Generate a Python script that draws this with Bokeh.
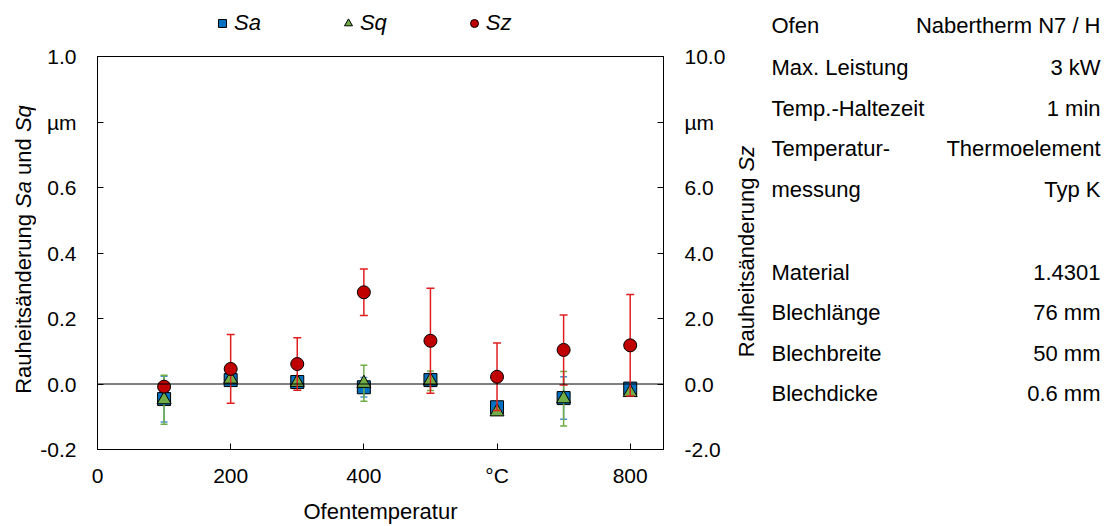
import math
from bokeh.plotting import figure
from bokeh.layouts import row, column
from bokeh.models import (Range1d, LinearAxis, FixedTicker, ColumnDataSource,
                          Span, Legend, LegendItem)
from bokeh.core.properties import value
from bokeh.embed import file_html
from bokeh.resources import INLINE

# ---------------- data ----------------
temps = [100, 200, 300, 400, 500, 600, 700, 800]
sa = [-0.046, 0.012, 0.006, -0.010, 0.012, -0.071, -0.043, -0.014]
sa_err = [0.070, 0.010, 0.010, 0.030, 0.020, 0.015, 0.065, 0.010]
sq = [-0.048, 0.015, 0.005, 0.002, 0.010, -0.085, -0.045, -0.026]
sq_err = [0.075, 0.010, 0.010, 0.055, 0.030, 0.010, 0.083, 0.010]
sz = [-0.08, 0.46, 0.61, 2.80, 1.32, 0.22, 1.04, 1.18]
sz_err = [0.10, 1.05, 0.80, 0.71, 1.60, 1.03, 1.07, 1.55]

x_ticks = [0, 200, 400, 600, 800]
x_tick_labels = ["0", "200", "400", "°C", "800"]
yl_ticks = [-0.2, 0.0, 0.2, 0.4, 0.6, 0.8, 1.0]
yl_tick_labels = ["-0.2", "0.0", "0.2", "0.4", "0.6", "µm", "1.0"]
yr_ticks = [-2, 0, 2, 4, 6, 8, 10]
yr_tick_labels = ["-2.0", "0.0", "2.0", "4.0", "6.0", "µm", "10.0"]

series_names = ["Sa", "Sq", "Sz"]
table_left = ["Ofen", "Max. Leistung", "Temp.-Haltezeit", "Temperatur-", "messung",
              "Material", "Blechlänge", "Blechbreite", "Blechdicke"]
table_right = ["Nabertherm N7 / H", "3 kW", "1 min", "Thermoelement", "Typ K",
               "1.4301", "76 mm", "50 mm", "0.6 mm"]

# ---------------- layout constants (pixels) ----------------
W, H = 1104, 526
LEFT_W = 36            # column holding the left rotated title
MAIN_W = 697           # main chart figure
RIGHT_W = W - LEFT_W - MAIN_W
LEG_H = 40
MAIN_H = H - LEG_H
FL, FR, FT, FB = 97, 663, 56, 449   # frame edges, page coordinates
FONT = "Liberation Sans"
FS = 22
TABLE_ROWS_PY = [25, 67, 108, 148, 189, 272, 312, 353, 393]

BLUE, GREEN, RED = "#0070C0", "#70AD47", "#C00000"


def blank_fig(w, h):
    f = figure(width=w, height=h, x_range=Range1d(0, w), y_range=Range1d(0, h),
               output_backend="svg", toolbar_location=None, min_border=0,
               x_axis_location=None, y_axis_location=None,
               background_fill_color="white", border_fill_color="white")
    f.grid.visible = False
    f.outline_line_color = None
    return f


# ---------------- main chart ----------------
p = figure(width=MAIN_W, height=MAIN_H, x_range=Range1d(0, 850), y_range=Range1d(-0.2, 1.0),
           output_backend="svg", toolbar_location=None,
           min_border_left=FL - LEFT_W, min_border_right=LEFT_W + MAIN_W - FR,
           min_border_top=FT - LEG_H, min_border_bottom=H - FB,
           background_fill_color="white", border_fill_color="white")
p.extra_y_ranges = {"sz": Range1d(-2, 10)}
p.grid.visible = False
p.outline_line_color = "black"
p.outline_line_width = 1


def style_axis(ax, standoff):
    ax.axis_line_color = "black"
    ax.major_tick_line_color = "black"
    ax.major_tick_in = 6
    ax.major_tick_out = 0
    ax.minor_tick_line_color = None
    ax.major_label_text_font = FONT
    ax.major_label_text_font_size = "21px"
    ax.major_label_text_color = "black"
    ax.major_label_standoff = standoff


xa = p.xaxis[0]
xa.ticker = FixedTicker(ticks=x_ticks)
xa.major_label_overrides = {t: l for t, l in zip(x_ticks, x_tick_labels)}
style_axis(xa, 14)
xa.axis_label = "Ofentemperatur"
xa.axis_label_text_font = FONT
xa.axis_label_text_font_size = f"{FS}px"
xa.axis_label_text_font_style = "normal"
xa.axis_label_text_color = "black"
xa.axis_label_standoff = 9

ya = p.yaxis[0]
ya.ticker = FixedTicker(ticks=yl_ticks)
ya.major_label_overrides = {t: l for t, l in zip(yl_ticks, yl_tick_labels)}
style_axis(ya, 21)

yr = LinearAxis(y_range_name="sz")
yr.ticker = FixedTicker(ticks=yr_ticks)
yr.major_label_overrides = {t: l for t, l in zip(yr_ticks, yr_tick_labels)}
style_axis(yr, 21)
p.add_layout(yr, "right")

p.add_layout(Span(location=0, dimension="width", line_color="black", line_width=1))


def series(vals, errs, marker, fill, err_color, cap, size, range_name="default"):
    lo = [v - e for v, e in zip(vals, errs)]
    hi = [v + e for v, e in zip(vals, errs)]
    src = ColumnDataSource(dict(x=temps, y=vals, lo=lo, hi=hi))
    p.segment(x0="x", y0="lo", x1="x", y1="hi", source=src, line_color=err_color,
              line_width=1.5, y_range_name=range_name)
    p.scatter(x="x", y="lo", source=src, marker="dash", size=cap, line_color=err_color,
              line_width=1.5, y_range_name=range_name)
    p.scatter(x="x", y="hi", source=src, marker="dash", size=cap, line_color=err_color,
              line_width=1.5, y_range_name=range_name)
    return p.scatter(x="x", y="y", source=src, marker=marker, size=size, fill_color=fill,
                     line_color="black", line_width=1, y_range_name=range_name)


series(sa, sa_err, "square", BLUE, "#4A90D0", 7, 13)
series(sq, sq_err, "triangle", GREEN, GREEN, 7, 14)
series(sz, sz_err, "circle", RED, "#E02020", 8, 13, "sz")

# ---------------- legend row (its frame is aligned with the chart frame) ----------------
lg = blank_fig(MAIN_W, LEG_H)
items = []
for name, marker, fill in zip(series_names, ["square", "triangle", "circle"], [BLUE, GREEN, RED]):
    r = lg.scatter(x=[-100], y=[-100], marker=marker, size=10, fill_color=fill,
                   line_color="black", line_width=1)
    items.append(LegendItem(label=name, renderers=[r]))
legend = Legend(items=items, orientation="horizontal", location=(212 - FL, 4),
                label_text_font=FONT, label_text_font_style="italic",
                label_text_font_size=f"{FS}px", label_text_color="black",
                glyph_width=20, glyph_height=20,
                label_standoff=2, spacing=77, padding=0, margin=0,
                border_line_color=None, background_fill_alpha=0)
lg.add_layout(legend, "center")

# ---------------- left title ----------------
lf = blank_fig(LEFT_W, H)


def rotated_title(f, px, py_center, pieces, total_em):
    start = py_center + total_em * FS / 2
    for txt, off_em, style in pieces:
        f.text(x=[px], y=[H - (start - off_em * FS)], text=[txt], angle=math.pi / 2,
               text_align="left", text_baseline="middle", text_font=value(FONT),
               text_font_style=style, text_font_size=value(f"{FS}px"), text_color="black")


rotated_title(lf, 23, 249, [("Rauheitsänderung", 0.0, "normal"), ("Sa", 8.449, "italic"),
                            ("und", 9.950, "normal"), ("Sq", 11.896, "italic")], 13.119)

# ---------------- right panel: Sz title and info table ----------------
rf = blank_fig(RIGHT_W, H)
x_off = LEFT_W + MAIN_W
rotated_title(rf, 746 - x_off, 251, [("Rauheitsänderung", 0.0, "normal"),
                                     ("Sz", 8.449, "italic")], 9.616)
ys = [H - py for py in TABLE_ROWS_PY]
rf.text(x=[771 - x_off] * len(table_left), y=ys, text=table_left, text_align="left",
        text_baseline="middle", text_font=value(FONT), text_font_size=value(f"{FS}px"),
        text_color="black")
rf.text(x=[1100 - x_off] * len(table_right), y=ys, text=table_right, text_align="right",
        text_baseline="middle", text_font=value(FONT), text_font_size=value(f"{FS}px"),
        text_color="black")

layout = row(lf, column(lg, p), rf)
open("out.html", "w").write(file_html(layout, INLINE))
